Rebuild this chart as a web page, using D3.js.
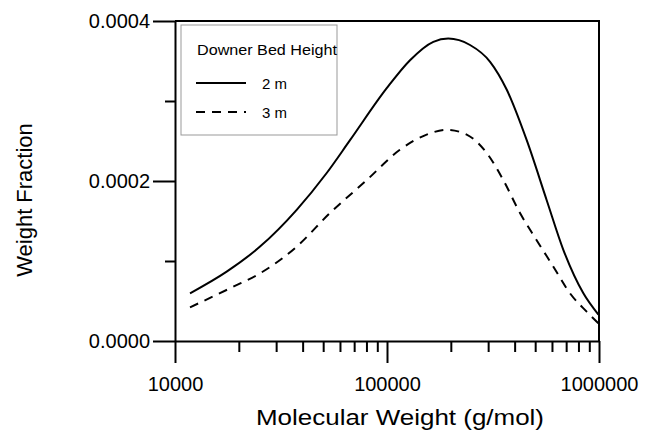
<!DOCTYPE html>
<html>
<head>
<meta charset="utf-8">
<script src="https://cdn.jsdelivr.net/npm/d3@7"></script>
<style>
  body { margin: 0; background: #fff; }
  svg { display: block; font-family: "Liberation Sans", Arial, sans-serif; }
</style>
</head>
<body>
<div id="chart"></div>
<script>
// Data
var molWeight2m = [11770, 17530, 25180, 37500, 51950, 66920, 99700, 128400, 165400, 194500,
                   246400, 306400, 367300, 456100, 566600, 678800, 843900, 993700];
var frac2m = [5.96e-5, 8.67e-5, 1.18e-4, 1.64e-4, 2.10e-4, 2.51e-4, 3.16e-4, 3.51e-4, 3.74e-4, 3.78e-4,
              3.70e-4, 3.49e-4, 3.14e-4, 2.51e-4, 1.76e-4, 1.14e-4, 5.96e-5, 3.30e-5];

var molWeight3m = [11770, 18840, 25180, 37500, 53830, 80130, 115000, 153800, 191100, 237600,
                   295300, 354000, 424000, 508000, 609300, 730000, 874700, 993700];
var frac3m = [4.21e-5, 6.79e-5, 8.46e-5, 1.18e-4, 1.60e-4, 2.01e-4, 2.39e-4, 2.58e-4, 2.64e-4, 2.58e-4,
              2.35e-4, 2.01e-4, 1.60e-4, 1.26e-4, 9.29e-5, 5.96e-5, 3.67e-5, 2.21e-5];

var xMajorTicks = [10000, 100000, 1000000];
var xMinorTicks = [20000, 30000, 40000, 50000, 60000, 70000, 80000, 90000,
                   200000, 300000, 400000, 500000, 600000, 700000, 800000, 900000];
var yMajorTicks = [0, 0.0002, 0.0004];
var yMinorTicks = [0.0001, 0.0003];

var legendTitle = "Downer Bed Height";
var seriesNames = ["2 m", "3 m"];
var xTitle = "Molecular Weight (g/mol)";
var yTitle = "Weight Fraction";

var W = 649, H = 431;
var margin = {top: 21, right: 50, bottom: 90, left: 175};

var svg = d3.select("#chart").append("svg")
    .attr("width", W)
    .attr("height", H);

var xScale = d3.scaleLog().domain([10000, 1000000]).range([margin.left, W - margin.right]);
var yScale = d3.scaleLinear().domain([0, 0.0004]).range([H - margin.bottom, margin.top]);

// frame (top and right)
svg.append("path")
   .attr("d", "M" + xScale(10000) + "," + yScale(0.0004) + "H" + xScale(1000000) + "V" + yScale(0))
   .attr("fill", "none")
   .attr("stroke", "#000")
   .attr("stroke-width", 2);

// x axis
svg.append("g")
    .attr("transform", "translate(0," + yScale(0) + ")")
    .call(d3.axisBottom(xScale).tickValues(xMajorTicks).tickSize(22).tickSizeOuter(0)
            .tickPadding(14).tickFormat(d3.format("d")));
svg.append("g")
    .attr("transform", "translate(0," + yScale(0) + ")")
    .call(d3.axisBottom(xScale).tickValues(xMinorTicks).tickSize(11).tickSizeOuter(0).tickFormat(""))
    .select(".domain").remove();

// y axis
svg.append("g")
    .attr("transform", "translate(" + xScale(10000) + ",0)")
    .call(d3.axisLeft(yScale).tickValues(yMajorTicks).tickSize(22).tickSizeOuter(0)
            .tickPadding(3).tickFormat(d3.format(".4f")));
svg.append("g")
    .attr("transform", "translate(" + xScale(10000) + ",0)")
    .call(d3.axisLeft(yScale).tickValues(yMinorTicks).tickSize(10).tickSizeOuter(0).tickFormat(""))
    .select(".domain").remove();

svg.selectAll(".domain, .tick line")
   .attr("stroke", "#000")
   .attr("stroke-width", 2);
svg.selectAll(".tick text")
   .attr("fill", "#000")
   .style("font-size", "20px")
   .style("font-family", "'Liberation Sans', Arial, sans-serif");

// axis titles
svg.append("text")
   .attr("x", xScale(100000) + 13)
   .attr("y", 425)
   .attr("text-anchor", "middle")
   .attr("textLength", 288)
   .attr("lengthAdjust", "spacingAndGlyphs")
   .style("font-size", "22px")
   .text(xTitle);

svg.append("text")
   .attr("transform", "translate(32," + 200 + ") rotate(-90)")
   .attr("text-anchor", "middle")
   .style("font-size", "22px")
   .text(yTitle);

// curves
var line = d3.line()
    .x(function (d) { return xScale(d[0]); })
    .y(function (d) { return yScale(d[1]); })
    .curve(d3.curveMonotoneX);

svg.append("path")
   .datum(d3.zip(molWeight2m, frac2m))
   .attr("d", line)
   .attr("fill", "none")
   .attr("stroke", "#000")
   .attr("stroke-width", 2);

svg.append("path")
   .datum(d3.zip(molWeight3m, frac3m))
   .attr("d", line)
   .attr("fill", "none")
   .attr("stroke", "#000")
   .attr("stroke-width", 2)
   .attr("stroke-dasharray", "9,7");

// legend
var legend = svg.append("g").attr("transform", "translate(181,25)");
legend.append("rect")
   .attr("width", 156)
   .attr("height", 110)
   .attr("fill", "#fff")
   .attr("stroke", "#999")
   .attr("stroke-width", 1);
legend.append("text")
   .attr("x", 16)
   .attr("y", 30)
   .style("font-size", "15px")
   .attr("textLength", 140)
   .attr("lengthAdjust", "spacingAndGlyphs")
   .text(legendTitle);

var dashes = [null, "9,7"];
seriesNames.forEach(function (name, i) {
  var ly = 58 + i * 29;
  legend.append("line")
     .attr("x1", 15).attr("x2", 65)
     .attr("y1", ly).attr("y2", ly)
     .attr("stroke", "#000")
     .attr("stroke-width", 2)
     .attr("stroke-dasharray", dashes[i]);
  legend.append("text")
     .attr("x", 81)
     .attr("y", ly + 6)
     .style("font-size", "15px")
     .text(name);
});
</script>
</body>
</html>
